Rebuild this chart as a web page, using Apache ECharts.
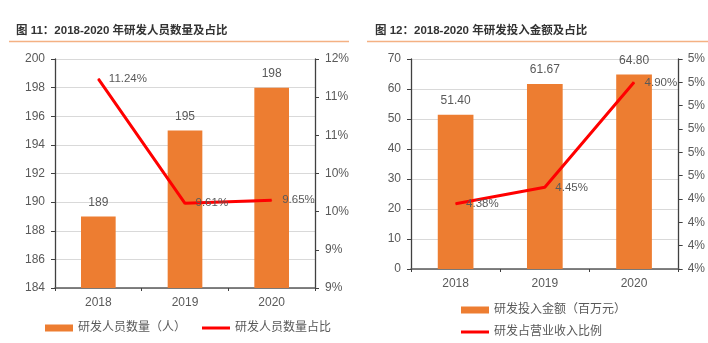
<!DOCTYPE html>
<html>
<head>
<meta charset="utf-8">
<script src="https://cdn.jsdelivr.net/npm/echarts@6/dist/echarts.min.js"></script>
<style>html,body{margin:0;padding:0;background:#fff;}#c{width:708px;height:343px;}</style>
</head>
<body>
<div id="c"></div>
<script>
// Data
var categories = ['2018', '2019', '2020'];
var staffCount = [189, 195, 198];
var staffRatio = [11.24, 9.61, 9.65];
var rdSpend = [51.40, 61.67, 64.80];
var rdRatio = [4.38, 4.45, 4.90];
var titles = ['图 11：2018-2020 年研发人员数量及占比', '图 12：2018-2020 年研发投入金额及占比'];
var seriesNames = ['研发人员数量（人）', '研发人员数量占比', '研发投入金额（百万元）', '研发占营业收入比例'];

var FONT = "'Liberation Sans', 'Noto Sans CJK SC', sans-serif";
var GRAY = '#595959';
var ORANGE = '#ED7D31';
var RED = '#FF0000';
var LINE_ICON = 'path://M0,0L28,0L28,3L0,3Z';

function yAxisBase(extra) {
  var o = {
    axisLine: {show: true, lineStyle: {color: '#404040', width: 1.3}},
    axisTick: {show: true, inside: false, length: 4, lineStyle: {color: '#404040'}},
    axisLabel: {color: GRAY, fontSize: 12, fontFamily: FONT, margin: 10},
    splitLine: {show: false}
  };
  for (var k in extra) o[k] = extra[k];
  return o;
}

function lineLabel() {
  return {show: true, position: 'right', distance: 10, color: GRAY, fontSize: 11.5, fontFamily: FONT,
    formatter: function (p) { return p.value.toFixed(2) + '%'; }};
}

var chart = echarts.init(document.getElementById('c'), null, {renderer: 'canvas'});
chart.setOption({
  animation: false,
  textStyle: {fontFamily: FONT},
  title: [
    {text: titles[0], left: 16, top: 25, padding: 0,
     textStyle: {fontSize: 11.5, fontWeight: 'bold', color: '#333', fontFamily: FONT}},
    {text: titles[1], left: 375, top: 25, padding: 0,
     textStyle: {fontSize: 11.5, fontWeight: 'bold', color: '#333', fontFamily: FONT}}
  ],
  graphic: [
    {type: 'line', shape: {x1: 9, y1: 41.5, x2: 349, y2: 41.5}, style: {stroke: '#F4B183', lineWidth: 1.5}},
    {type: 'line', shape: {x1: 367, y1: 41.5, x2: 708, y2: 41.5}, style: {stroke: '#F4B183', lineWidth: 1.5}}
  ],
  legend: [
    {data: [{name: seriesNames[0], icon: 'rect'},
            {name: seriesNames[1], icon: LINE_ICON, itemStyle: {color: RED}}],
     left: 45, top: 322, padding: 0,
     itemWidth: 28, itemHeight: 7, itemGap: 16,
     textStyle: {color: GRAY, fontSize: 12, fontFamily: FONT}},
    {data: [{name: seriesNames[2], icon: 'rect'},
            {name: seriesNames[3], icon: LINE_ICON, itemStyle: {color: RED}}],
     orient: 'vertical', left: 461, top: 303, padding: 0,
     itemWidth: 28, itemHeight: 7, itemGap: 8,
     textStyle: {color: GRAY, fontSize: 12, lineHeight: 14, fontFamily: FONT}}
  ],
  grid: [
    {left: 55, right: 393, top: 59, bottom: 55},
    {left: 411, right: 27, top: 59, bottom: 74}
  ],
  xAxis: [
    {type: 'category', gridIndex: 0, data: categories,
     axisLine: {lineStyle: {color: '#595959', width: 1.5}},
     axisTick: {show: true, length: 3, lineStyle: {color: '#404040'}},
     axisLabel: {color: GRAY, fontSize: 12, fontFamily: FONT, margin: 9}},
    {type: 'category', gridIndex: 1, data: categories,
     axisLine: {lineStyle: {color: '#595959', width: 1.5}},
     axisTick: {show: true, length: 3, lineStyle: {color: '#404040'}},
     axisLabel: {color: GRAY, fontSize: 12, fontFamily: FONT, margin: 9}}
  ],
  yAxis: [
    yAxisBase({type: 'value', gridIndex: 0, min: 184, max: 200, interval: 2,
      splitLine: {show: true, lineStyle: {color: '#D9D9D9', width: 1}}}),
    yAxisBase({type: 'value', gridIndex: 0, position: 'right', min: 8.5, max: 11.5, interval: 0.5,
      axisLabel: {color: GRAY, fontSize: 12, fontFamily: FONT, margin: 10,
        formatter: function (v) { return Math.round(+v.toFixed(2)) + '%'; }}}),
    yAxisBase({type: 'value', gridIndex: 1, min: 0, max: 70, interval: 10,
      splitLine: {show: true, lineStyle: {color: '#D9D9D9', width: 1}}}),
    yAxisBase({type: 'value', gridIndex: 1, position: 'right', min: 4.1, max: 5.0, interval: 0.1,
      axisLabel: {color: GRAY, fontSize: 12, fontFamily: FONT, margin: 9,
        formatter: function (v) { return Math.round(+v.toFixed(2)) + '%'; }}})
  ],
  series: [
    {name: seriesNames[0], type: 'bar', xAxisIndex: 0, yAxisIndex: 0, data: staffCount,
     barWidth: '40%', itemStyle: {color: ORANGE},
     label: {show: true, position: 'top', distance: 8, color: GRAY, fontSize: 12, fontFamily: FONT}},
    {name: seriesNames[1], type: 'line', xAxisIndex: 0, yAxisIndex: 1, data: staffRatio,
     symbol: 'circle', symbolSize: 1, showSymbol: true,
     lineStyle: {color: RED, width: 3}, itemStyle: {color: RED},
     label: lineLabel()},
    {name: seriesNames[2], type: 'bar', xAxisIndex: 1, yAxisIndex: 2, data: rdSpend,
     barWidth: '40%', itemStyle: {color: ORANGE},
     label: {show: true, position: 'top', distance: 8, color: GRAY, fontSize: 12, fontFamily: FONT,
       formatter: function (p) { return p.value.toFixed(2); }}},
    {name: seriesNames[3], type: 'line', xAxisIndex: 1, yAxisIndex: 3, data: rdRatio,
     symbol: 'circle', symbolSize: 1, showSymbol: true,
     lineStyle: {color: RED, width: 3}, itemStyle: {color: RED},
     label: lineLabel()}
  ]
});
</script>
</body>
</html>
